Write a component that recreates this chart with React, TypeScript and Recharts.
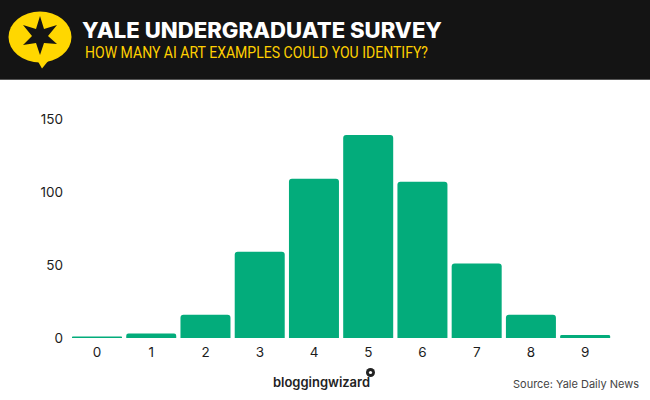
import { BarChart, Bar, XAxis, YAxis } from "recharts";

const scores = ["0", "1", "2", "3", "4", "5", "6", "7", "8", "9"];
const students = [1, 3, 16, 59, 109, 139, 107, 51, 16, 2];
const yTicks = [0, 50, 100, 150];

const data = scores.map((score, i) => ({ score, students: students[i] }));

const tickStyle = { fill: "#1C1C1C", fontSize: 13.5, fontFamily: "Inter" };

function Header() {
  return (
    <svg width={650} height={80} style={{ position: "absolute", left: 0, top: 0 }}>
      <rect width={650} height={79} fill="#141414" />
      <rect y={79} width={650} height={1} fill="#555555" />
      {/* speech bubble logo */}
      <ellipse cx={40} cy={37} rx={31.5} ry={25.5} fill="#FFD700" />
      <polygon points="36,58 49,60 42,68.5" fill="#FFD700" />
      <polygon
        points="40,16 44,29 57,25 48,36 57,44 44,43 40,55 36,43 23,45 32,36 23,25 36,29"
        fill="#141414"
      />
      <text
        x={82}
        y={38}
        fill="#FFFFFF"
        fontSize={21}
        fontWeight={800}
        fontFamily="Inter"
        textLength={360}
        lengthAdjust="spacingAndGlyphs"
      >
        YALE UNDERGRADUATE SURVEY
      </text>
      <text
        x={85}
        y={57.5}
        fill="#FFD000"
        fontSize={17}
        fontFamily="Roboto"
        textLength={343}
        lengthAdjust="spacingAndGlyphs"
      >
        HOW MANY AI ART EXAMPLES COULD YOU IDENTIFY?
      </text>
    </svg>
  );
}

function Footer() {
  return (
    <svg width={650} height={50} style={{ position: "absolute", left: 0, top: 350 }}>
      <text
        x={273}
        y={37}
        fill="#222222"
        fontSize={13}
        fontWeight={600}
        fontFamily="Inter"
        textLength={97}
        lengthAdjust="spacingAndGlyphs"
      >
        bloggingwizard
      </text>
      <circle cx={370.5} cy={22.5} r={4.5} fill="#222222" />
      <circle cx={370.5} cy={22.5} r={1.6} fill="#FFFFFF" />
      <text
        x={513}
        y={38}
        fill="#444444"
        fontSize={11}
        fontFamily="Inter"
        textLength={126}
        lengthAdjust="spacingAndGlyphs"
      >
        Source: Yale Daily News
      </text>
    </svg>
  );
}

export default function App() {
  return (
    <div
      style={{
        position: "absolute",
        left: 0,
        top: 0,
        width: 650,
        height: 400,
        background: "#FFFFFF",
        overflow: "hidden",
      }}
    >
      <Header />
      <div style={{ position: "absolute", left: 0, top: 80 }}>
        <BarChart
          width={650}
          height={285}
          data={data}
          margin={{ top: 39, right: 37.6, bottom: 0, left: 0.4 }}
          barSize={50}
        >
          <XAxis
            dataKey="score"
            axisLine={false}
            tickLine={false}
            height={27}
            tickMargin={3}
            interval={0}
            tick={tickStyle}
          />
          <YAxis
            domain={[0, 150]}
            ticks={yTicks}
            axisLine={false}
            tickLine={false}
            width={69.6}
            tickMargin={1}
            tick={tickStyle}
          />
          <Bar dataKey="students" fill="#03AC7B" radius={[3, 3, 0, 0]} isAnimationActive={false} />
        </BarChart>
      </div>
      <Footer />
    </div>
  );
}
